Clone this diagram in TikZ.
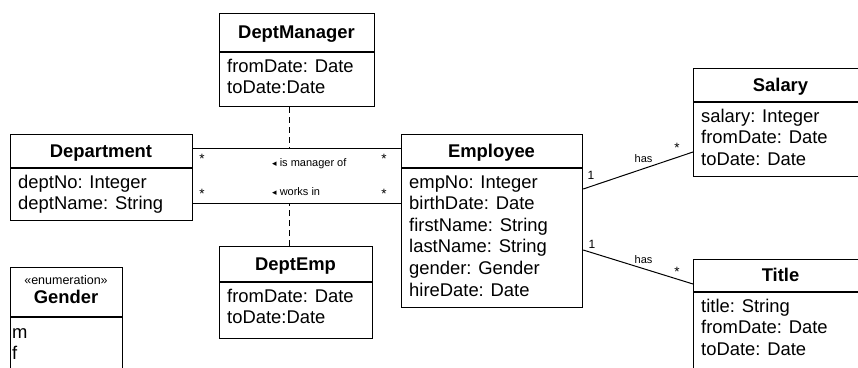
\documentclass[tikz,border=0pt]{standalone}
\usepackage{fontspec}
\setmainfont{Liberation Sans}
\newfontfamily\symfont{DejaVu Sans}
\begin{document}
\begin{tikzpicture}[x=1pt,y=-1pt,
  box/.style={draw, line width=1.2pt, inner sep=0pt, anchor=north west},
  rule/.style={line width=1.2pt},
  conn/.style={line width=1pt},
  dashline/.style={line width=1pt, dash pattern=on 6pt off 4pt},
  ctitle/.style={font=\fontsize{18.4}{22}\selectfont\bfseries, anchor=base, inner sep=0pt},
  attr/.style={font=\fontsize{18.4}{22}\selectfont, anchor=base west, inner sep=0pt},
  lbl/.style={font=\fontsize{11}{13}\selectfont, anchor=base, inner sep=0pt},
  mult/.style={font=\fontsize{12}{14}\selectfont, anchor=base, inner sep=0pt},
  starlbl/.style={font=\fontsize{13.5}{15}\selectfont, anchor=base, inner sep=0pt},
  lblw/.style={font=\fontsize{11}{13}\selectfont, anchor=base west, inner sep=0pt},
  stereo/.style={font=\fontsize{12.5}{14}\selectfont, anchor=base, inner sep=0pt},
]
\clip (0,0) rectangle (858,367);

% ---- class frames ----
\node[box, minimum width=155pt, minimum height=93pt] (dm) at (219,13) {};
\node[box, minimum width=182pt, minimum height=86pt] (dept) at (10,134) {};
\node[box, minimum width=181pt, minimum height=173pt] (emp) at (401,134) {};
\node[box, minimum width=153pt, minimum height=92pt] (de) at (219,246) {};
\node[box, minimum width=175pt, minimum height=108pt] (sal) at (693,68) {};
\node[box, minimum width=175pt, minimum height=130pt] (tit) at (693,259) {};
\node[box, minimum width=112pt, minimum height=120pt] (gen) at (10,267) {};

% ---- dividers ----
\draw[rule] (dm.west |- 0,52) -- (dm.east |- 0,52);
\draw[rule] (dept.west |- 0,168) -- (dept.east |- 0,168);
\draw[rule] (emp.west |- 0,168) -- (emp.east |- 0,168);
\draw[rule] (de.west |- 0,282) -- (de.east |- 0,282);
\draw[rule] (sal.west |- 0,102) -- (sal.east |- 0,102);
\draw[rule] (tit.west |- 0,292) -- (tit.east |- 0,292);
\draw[rule] (gen.west |- 0,317) -- (gen.east |- 0,317);

% ---- titles ----
\node[ctitle] (dmt) at (296.5,38.5) {DeptManager};
\node[ctitle] (deptt) at (101,157) {Department};
\node[ctitle] (empt) at (491.5,157) {Employee};
\node[ctitle] (det) at (295.5,270) {DeptEmp};
\node[ctitle] (salt) at (780.5,91) {Salary};
\node[ctitle] (titt) at (780.5,281.5) {Title};
\node[stereo] (gens) at (66,284.5) {«enumeration»};
\node[ctitle] (gent) at (66,303) {Gender};

% ---- attributes ----
\foreach \t [count=\i from 0] in {fromDate: Date, toDate:Date}
  \node[attr] (dma\i) at (227, {72+\i*21.6}) {\t};
\foreach \t [count=\i from 0] in {deptNo: Integer, deptName: String}
  \node[attr] (depta\i) at (18, {188+\i*21.6}) {\t};
\foreach \t [count=\i from 0] in {empNo: Integer, birthDate: Date, firstName: String, lastName: String, gender: Gender, hireDate: Date}
  \node[attr] (empa\i) at (409, {188+\i*21.6}) {\t};
\foreach \t [count=\i from 0] in {fromDate: Date, toDate:Date}
  \node[attr] (dea\i) at (227, {302+\i*21.6}) {\t};
\foreach \t [count=\i from 0] in {salary: Integer, fromDate: Date, toDate: Date}
  \node[attr] (sala\i) at (701, {122+\i*21.6}) {\t};
\foreach \t [count=\i from 0] in {title: String, fromDate: Date, toDate: Date}
  \node[attr] (tita\i) at (701, {312+\i*21.6}) {\t};
\foreach \t [count=\i from 0] in {m, f}
  \node[attr] (gena\i) at (12, {338+\i*21.6}) {\t};

% ---- connectors ----
\coordinate (mgr) at (289,148);
\coordinate (wrk) at (289,203);
\draw[conn] (dept.east |- mgr) -- (emp.west |- mgr);
\draw[conn] (dept.east |- wrk) -- (emp.west |- wrk);
\draw[dashline] (dm.south -| mgr) -- (mgr);
\draw[dashline] (de.north -| wrk) -- (wrk);
\draw[conn] (emp.east |- 0,189) -- (sal.west |- 0,152);
\draw[conn] (emp.east |- 0,250) -- (tit.west |- 0,284);

% ---- labels ----
\node[starlbl] (s1) at (202,163.7) {*};
\node[starlbl] (s2) at (202,198.7) {*};
\node[starlbl] (s3) at (384,163.7) {*};
\node[starlbl] (s4) at (384,198.7) {*};
\node[lblw] (l1) at (272,166) {{\symfont\fontsize{9}{11}\selectfont ◂} is manager of};
\node[lblw] (l2) at (272,195) {{\symfont\fontsize{9}{11}\selectfont ◂} works in};
\node[mult] (o1) at (591,179.3) {1};
\node[lbl] (h1) at (643.5,162) {has};
\node[starlbl] (s5) at (677,152.7) {*};
\node[mult] (o2) at (592,248.3) {1};
\node[lbl] (h2) at (643.5,263) {has};
\node[starlbl] (s6) at (677,276.7) {*};
\end{tikzpicture}
\end{document}
